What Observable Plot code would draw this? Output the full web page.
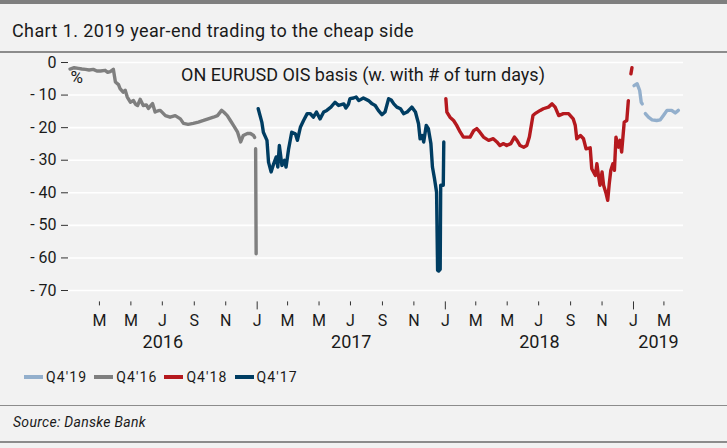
<!DOCTYPE html>
<html><head><meta charset="utf-8">
<script src="https://cdn.jsdelivr.net/npm/d3@7"></script>
<script src="https://cdn.jsdelivr.net/npm/@observablehq/plot@0.6"></script>
<style>
html,body{margin:0;padding:0;background:#f2f2f2;}
#wrap{width:727px;height:448px;position:relative;background:#f2f2f2;overflow:hidden;font-family:Roboto,sans-serif;color:#1a1a1a}
#topbar{position:absolute;left:0;top:0;width:727px;height:4px;background:#7f7f7f}
#title{position:absolute;left:12px;top:20px;font-size:18px;line-height:22px;letter-spacing:0.4px;white-space:nowrap}
.rule{position:absolute;left:0;width:727px;background:#8c8c8c}
#chart{position:absolute;left:0;top:53px}
#legend{position:absolute;left:24px;top:369px;display:flex;align-items:center;font-size:14px;line-height:16px;letter-spacing:1.1px}
#legend .item{display:flex;align-items:center;margin-right:7px}
#legend .sw{display:inline-block;flex:0 0 19px;width:19px;height:4px;margin-right:3px}
#source{position:absolute;left:13px;top:414px;font-size:14px;font-style:italic;line-height:16px;letter-spacing:0.3px}
</style></head>
<body><div id="wrap">
<div id="topbar"></div>
<div id="title">Chart 1. 2019 year-end trading to the cheap side</div>
<div class="rule" style="top:51px;height:2px"></div>
<div id="chart"></div>
<div id="legend"></div>
<div class="rule" style="top:405px;height:1px"></div>
<div id="source">Source: Danske Bank</div>
<div class="rule" style="top:441px;height:2px"></div>
</div>
<script>
// ---- data ----
const seriesNames = ["Q4'19", "Q4'16", "Q4'18", "Q4'17"];
const seriesColors = ["#93afcc", "#7f7f7f", "#b5191e", "#003d62"];

const q416Dates = ["2016-01-04","2016-01-12","2016-01-20","2016-01-27","2016-02-03","2016-02-10","2016-02-18","2016-02-25","2016-03-03","2016-03-12","2016-03-17","2016-03-22","2016-03-28","2016-04-01","2016-04-07","2016-04-10","2016-04-16","2016-04-20","2016-04-24","2016-04-30","2016-05-06","2016-05-10","2016-05-14","2016-05-19","2016-05-25","2016-05-31","2016-06-04","2016-06-12","2016-06-17","2016-06-23","2016-06-27","2016-07-07","2016-07-16","2016-07-26","2016-08-05","2016-08-11","2016-08-20","2016-08-30","2016-09-09","2016-09-19","2016-09-28","2016-10-08","2016-10-16","2016-10-24","2016-10-28","2016-11-04","2016-11-10","2016-11-16","2016-11-24","2016-11-30","2016-12-05","2016-12-13","2016-12-19","2016-12-25","2016-12-27","2016-12-28","2016-12-29","2016-12-30"];
const q416Values = [-2.0,-1.6,-1.8,-2.0,-2.1,-2.3,-2.1,-2.6,-2.6,-2.4,-3.0,-2.8,-2.1,-6.0,-6.8,-8.0,-9.1,-8.5,-10.6,-12.2,-11.7,-12.8,-13.2,-11.3,-13.2,-13.0,-14.1,-12.6,-15.2,-14.8,-14.7,-16.3,-16.8,-16.3,-17.3,-18.7,-19.0,-18.7,-18.3,-17.8,-17.3,-16.8,-16.3,-14.7,-15.2,-16.3,-17.8,-19.3,-21.4,-24.4,-22.4,-21.8,-21.8,-22.4,-23.0,NaN,-26.5,-58.7];

const q417Dates = ["2017-01-03","2017-01-10","2017-01-13","2017-01-20","2017-01-23","2017-01-28","2017-02-02","2017-02-07","2017-02-10","2017-02-13","2017-02-18","2017-02-23","2017-02-26","2017-03-03","2017-03-09","2017-03-16","2017-03-20","2017-03-26","2017-04-01","2017-04-08","2017-04-14","2017-04-20","2017-04-26","2017-05-03","2017-05-10","2017-05-16","2017-05-24","2017-06-01","2017-06-08","2017-06-18","2017-06-22","2017-06-27","2017-06-30","2017-07-07","2017-07-12","2017-07-17","2017-07-26","2017-08-05","2017-08-12","2017-08-18","2017-08-24","2017-08-31","2017-09-06","2017-09-13","2017-09-18","2017-09-23","2017-09-29","2017-10-06","2017-10-12","2017-10-19","2017-10-28","2017-11-04","2017-11-10","2017-11-13","2017-11-17","2017-11-20","2017-11-25","2017-11-29","2017-12-04","2017-12-07","2017-12-11","2017-12-15","2017-12-17","2017-12-19","2017-12-22","2017-12-23","2017-12-28","2017-12-29"];
const q417Values = [-14.2,-18.3,-21.4,-23.9,-30.6,-33.6,-31.1,-29.0,-32.1,-25.5,-31.6,-30.0,-32.1,-26.5,-21.4,-21.9,-23.9,-19.8,-17.8,-15.7,-15.7,-16.8,-15.2,-17.3,-15.2,-14.7,-13.7,-12.2,-13.2,-12.7,-14.0,-12.8,-11.1,-10.9,-10.6,-11.7,-10.9,-11.7,-12.7,-13.2,-14.7,-16.0,-15.2,-11.1,-11.5,-12.7,-13.7,-14.2,-15.7,-15.2,-13.7,-15.2,-18.8,-23.4,-22.4,-24.4,-19.3,-20.3,-24.9,-32.1,-35.7,-39.8,-63.8,-64.0,-63.5,-37.7,-37.7,-24.4];

const q418Dates = ["2018-01-02","2018-01-04","2018-01-10","2018-01-17","2018-01-23","2018-01-30","2018-02-05","2018-02-18","2018-02-25","2018-03-03","2018-03-09","2018-03-16","2018-03-26","2018-04-04","2018-04-11","2018-04-17","2018-04-24","2018-04-30","2018-05-08","2018-05-15","2018-05-20","2018-05-26","2018-06-02","2018-06-08","2018-06-13","2018-06-20","2018-06-24","2018-07-04","2018-07-10","2018-07-20","2018-07-27","2018-08-02","2018-08-09","2018-08-18","2018-08-28","2018-09-06","2018-09-10","2018-09-13","2018-09-20","2018-09-26","2018-10-01","2018-10-09","2018-10-12","2018-10-19","2018-10-22","2018-10-25","2018-10-28","2018-11-01","2018-11-04","2018-11-09","2018-11-12","2018-11-15","2018-11-18","2018-11-22","2018-11-25","2018-11-28","2018-12-03","2018-12-06","2018-12-09","2018-12-14","2018-12-19","2018-12-22","2018-12-25","2018-12-27","2018-12-29"];
const q418Values = [-11.1,-15.2,-16.8,-17.8,-19.3,-21.4,-22.9,-22.9,-20.9,-20.3,-21.4,-22.9,-23.9,-23.4,-24.4,-25.5,-24.9,-25.5,-24.9,-22.9,-23.9,-25.5,-26.0,-25.5,-22.9,-16.3,-15.7,-14.7,-14.2,-13.7,-12.7,-13.7,-16.3,-15.7,-15.7,-17.3,-19.3,-23.4,-22.4,-23.4,-26.5,-26.2,-32.6,-34.7,-31.1,-34.7,-37.7,-33.6,-37.7,-40.3,-42.3,-37.2,-33.1,-31.1,-33.1,-22.9,-26.0,-23.9,-27.5,-18.3,-17.8,-11.7,NaN,-3.5,-1.6];

const q419Dates = ["2019-01-02","2019-01-08","2019-01-13","2019-01-16","2019-01-18","2019-01-21","2019-01-24","2019-01-30","2019-02-06","2019-02-15","2019-02-22","2019-02-28","2019-03-07","2019-03-16","2019-03-23","2019-03-29"];
const q419Values = [-7.1,-6.5,-8.6,-12.2,-12.7,NaN,-15.7,-16.8,-17.6,-17.8,-17.6,-16.3,-14.7,-14.7,-15.5,-14.7];

const xStart = "2016-01-01";
const xEnd = "2019-04-08";
const yTicks = [0, -10, -20, -30, -40, -50, -60, -70];
const monthLetters = ["J","F","M","A","M","J","J","A","S","O","N","D"];
const yearLabels = ["2016", "2017", "2018", "2019"];
const chartNote = "ON EURUSD OIS basis (w. with # of turn days)";
const unitLabel = "%";

// ---- build ----
const parse = d3.utcParse("%Y-%m-%d");
const seriesData = {
  "Q4'16": [q416Dates, q416Values],
  "Q4'17": [q417Dates, q417Values],
  "Q4'18": [q418Dates, q418Values],
  "Q4'19": [q419Dates, q419Values]
};
const rows = [];
for (const name of ["Q4'16","Q4'17","Q4'18","Q4'19"]) {
  const [ds, vs] = seriesData[name];
  ds.forEach((d, i) => rows.push({series: name, date: parse(d), value: vs[i]}));
}
const x0 = parse(xStart), x1 = parse(xEnd);
const monthTicks = d3.utcMonth.every(2).range(d3.utcDay.offset(x0, 1), x1);
const minorTicks = monthTicks.filter(d => d.getUTCMonth() !== 0);
const janTicks = monthTicks.filter(d => d.getUTCMonth() === 0);
const years = yearLabels.map(y => {
  const a = new Date(Math.max(+parse(y + "-01-01"), +x0));
  const b = new Date(Math.min(+parse((+y + 1) + "-01-01"), +x1));
  return {label: y, mid: new Date((+a + +b) / 2)};
});
const fmtMonth = d => monthLetters[d.getUTCMonth()];

const chart = Plot.plot({
  width: 727, height: 305,
  marginLeft: 68, marginRight: 44, marginTop: 9, marginBottom: 56.6,
  style: {background: "transparent", fontFamily: "Roboto, sans-serif", color: "#1a1a1a", overflow: "visible"},
  x: {type: "utc", domain: [x0, x1]},
  y: {domain: [-73.5, 0]},
  color: {domain: seriesNames, range: seriesColors},
  marks: [
    Plot.gridY(yTicks, {stroke: "#ffffff", strokeOpacity: 1, strokeWidth: 1.6}),
    Plot.axisY(yTicks, {tickSize: 7, tickPadding: 5, fontSize: 16, label: null, letterSpacing: 3, tickFormat: d => d === 0 ? "0" : "- " + Math.abs(d), stroke: "#333"}),
    Plot.axisX(minorTicks, {tickSize: 4, tickPadding: 9, fontSize: 16, label: null, tickFormat: fmtMonth, stroke: "#333"}),
    Plot.axisX(janTicks, {tickSize: 8, tickPadding: 5, fontSize: 16, label: null, tickFormat: fmtMonth, stroke: "#333"}),
    Plot.line(rows, {x: "date", y: "value", z: "series", stroke: "series", strokeWidth: 3.4}),
    Plot.text(years, {x: "mid", text: "label", frameAnchor: "bottom", dy: 40.6, lineAnchor: "middle", fontSize: 18, letterSpacing: 3, fill: "#1a1a1a"}),
    Plot.text([chartNote], {frameAnchor: "top", dx: -13, dy: 13, lineAnchor: "middle", fontSize: 18, letterSpacing: 1.1, fill: "#1a1a1a"}),
    Plot.text([unitLabel], {frameAnchor: "top-left", textAnchor: "start", dx: 2, dy: 15.5, lineAnchor: "middle", fontSize: 17, fill: "#1a1a1a"})
  ]
});
document.getElementById("chart").appendChild(chart);

const legend = document.getElementById("legend");
seriesNames.forEach((n, i) => {
  const item = document.createElement("div");
  item.className = "item";
  const sw = document.createElement("span");
  sw.className = "sw";
  sw.style.background = seriesColors[i];
  const t = document.createElement("span");
  t.textContent = n;
  item.appendChild(sw); item.appendChild(t);
  legend.appendChild(item);
});
</script>
</body></html>
